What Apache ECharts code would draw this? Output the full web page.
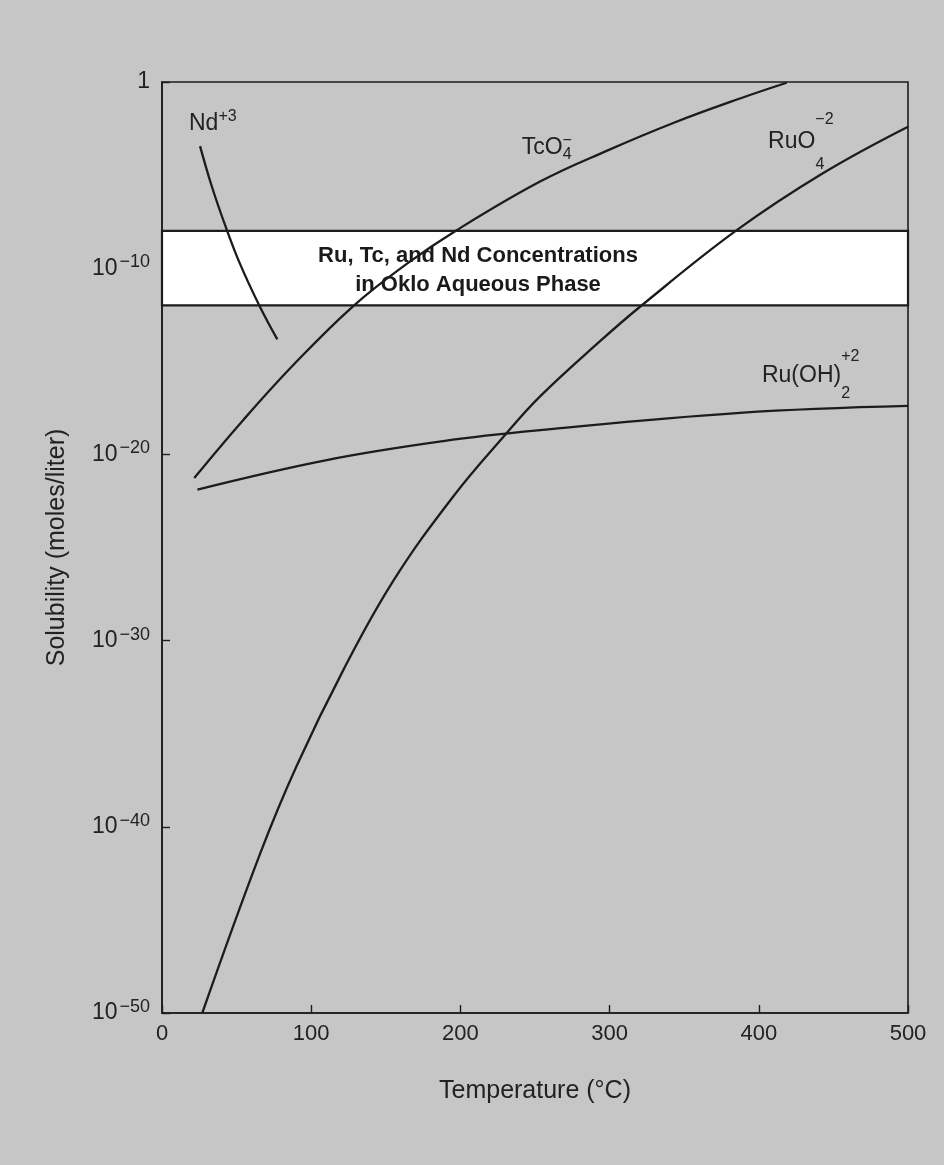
<!DOCTYPE html>
<html>
<head>
<meta charset="utf-8">
<script src="https://cdn.jsdelivr.net/npm/echarts@6/dist/echarts.min.js"></script>
<style>
html,body{margin:0;padding:0;background:#c6c6c6;}
#chart{width:944px;height:1165px;}
</style>
</head>
<body>
<div id="chart"></div>
<script>
// ---- data (temperature in °C, solubility in moles/liter) ----
const ndTemp   = [25.5, 33.3, 42.9, 52.3, 65.2, 77.3];
const ndSol    = [3.6e-4, 2.6e-6, 1.5e-8, 1.7e-10, 1.0e-12, 1.5e-14];

const tcTemp   = [21.6, 54.5, 88, 128.2, 164, 197.5, 253.4, 298, 342.7, 387.4, 418.7];
const tcSol    = [5.4e-22, 7.1e-19, 6.3e-16, 9.3e-13, 1.7e-10, 1.1e-8, 4.5e-6, 2.0e-4, 6.3e-3, 0.13, 0.91];

const ruo4Temp = [27, 65.7, 90.3, 121.5, 155, 195.2, 229.9, 253.4, 293.6, 320.4, 385.2, 443.2, 500];
const ruo4Sol  = [1e-50, 3.5e-42, 1.9e-37, 2.6e-32, 1.6e-27, 5.5e-23, 1.1e-19, 1.3e-17, 1.2e-14, 8.5e-13, 1.1e-8, 1.3e-5, 4.0e-3];

const ruohTemp = [23.7, 110.4, 188.5, 253.4, 387.4, 500];
const ruohSol  = [1.3e-22, 5.0e-21, 5.2e-20, 2.0e-19, 1.7e-18, 4.0e-18];

const bandRange = [1e-8, 1e-12];
const bandText  = ['Ru, Tc, and Nd Concentrations', 'in Oklo Aqueous Phase'];

const xTickValues = [0, 100, 200, 300, 400, 500];
const yTickLabels = ['1', '10-10', '10-20', '10-30', '10-40', '10-50'];

const xTitle = 'Temperature (°C)';
const yTitle = 'Solubility (moles/liter)';

// ---- styling ----
const INK = '#1c1c1c';
const TXT = '#222222';
const FONT = '"Liberation Sans", Arial, sans-serif';

// the y axis is a decade (log10) axis: values are placed by their exponent
const dec = v => Math.log10(v);
function pairs(xs, ys) { return xs.map((x, i) => [x, dec(ys[i])]); }

function tag(coord, formatter, L, Ls, Lb) {
  return {
    coord: [coord[0], dec(coord[1])],
    symbol: 'circle',
    symbolSize: 0,
    label: {
      show: true, position: 'right', distance: 0,
      formatter: formatter,
      fontFamily: FONT, color: TXT,
      rich: {
        m: { fontSize: 23, lineHeight: L, fontFamily: FONT, color: TXT },
        p: { fontSize: 16, lineHeight: Ls, verticalAlign: 'top', width: 0.1, fontFamily: FONT, color: TXT },
        q: { fontSize: 16, lineHeight: Ls, verticalAlign: 'top', fontFamily: FONT, color: TXT },
        b: { fontSize: 16, lineHeight: Lb, verticalAlign: 'bottom', fontFamily: FONT, color: TXT }
      }
    }
  };
}

function lineSeries(name, xs, ys, marks, extra) {
  const s = {
    name: name,
    type: 'line',
    data: pairs(xs, ys),
    showSymbol: false,
    symbol: 'none',
    smooth: 0.4,
    z: 3,
    lineStyle: { color: INK, width: 2.3 },
    emphasis: { disabled: true },
    markPoint: { silent: true, symbol: 'circle', symbolSize: 0, data: marks }
  };
  return Object.assign(s, extra || {});
}

const chart = echarts.init(document.getElementById('chart'), null, { renderer: 'canvas' });

chart.setOption({
  backgroundColor: '#c6c6c6',
  animation: false,
  textStyle: { fontFamily: FONT },
  grid: {
    left: 162, right: 36, top: 82, bottom: 152,
    show: true, borderColor: INK, borderWidth: 1.6, backgroundColor: 'transparent'
  },
  xAxis: {
    type: 'value', min: 0, max: 500, interval: 100,
    name: xTitle, nameLocation: 'middle', nameGap: 66,
    nameTextStyle: { fontSize: 25, color: TXT, fontFamily: FONT },
    axisLine: { show: true, onZero: false, lineStyle: { color: INK, width: 1.6 } },
    axisTick: { show: true, inside: true, length: 8, lineStyle: { color: INK, width: 1.4 } },
    axisLabel: { fontSize: 22, color: TXT, margin: 10, fontFamily: FONT,
      formatter: v => xTickValues.includes(v) ? String(v) : '' },
    splitLine: { show: false }
  },
  yAxis: {
    type: 'value', min: -50, max: 0, interval: 10,
    name: yTitle, nameLocation: 'middle', nameGap: 92,
    nameTextStyle: { fontSize: 25, color: TXT, fontFamily: FONT },
    axisLine: { show: true, onZero: false, lineStyle: { color: INK, width: 1.6 } },
    axisTick: { show: true, inside: true, length: 8, lineStyle: { color: INK, width: 1.4 } },
    axisLabel: {
      margin: 12, color: TXT, fontFamily: FONT,
      showMinLabel: true, showMaxLabel: true,
      formatter: function (v) {
        const lab = yTickLabels[Math.round(-v / 10)];
        if (lab === undefined) return '';
        if (lab === '1') return '{b|1}';
        return '{b|10}{s|\u2212' + lab.slice(3) + '}';
      },
      rich: {
        b: { fontSize: 23, lineHeight: 30, color: TXT, fontFamily: FONT },
        s: { fontSize: 18, lineHeight: 15, verticalAlign: 'top', padding: [0, 0, 0, 2], color: TXT, fontFamily: FONT }
      }
    },
    splitLine: { show: false }
  },
  series: [
    lineSeries('Nd+3', ndTemp, ndSol, [tag([18.1, 5.9e-3], '{m|Nd}{q|+3}', 30, 15, 15)], {
      markArea: {
        silent: true,
        z: 1,
        itemStyle: { color: '#ffffff', borderColor: INK, borderWidth: 2.2 },
        label: {
          show: true, position: 'inside', offset: [-57, 2],
          formatter: bandText.join('\n'),
          fontSize: 22, fontWeight: 'bold', lineHeight: 29, color: '#1a1a1a', fontFamily: FONT, align: 'center'
        },
        data: [[{ yAxis: dec(bandRange[0]) }, { yAxis: dec(bandRange[1]) }]]
      }
    }),
    lineSeries('TcO4-', tcTemp, tcSol, [tag([241.1, 3.0e-4], '{m|TcO}{p|\u2212}{b|4}', 30, 13, 17)]),
    lineSeries('RuO4-2', ruo4Temp, ruo4Sol, [tag([406.2, 6.3e-4], '{m|RuO}{p|\u22122}{b|4}', 61, 36, 15)]),
    lineSeries('Ru(OH)2+2', ruohTemp, ruohSol, [tag([402.1, 1.8e-16], '{m|Ru(OH)}{p|+2}{b|2}', 53, 28, 15)])
  ]
});
</script>
</body>
</html>
